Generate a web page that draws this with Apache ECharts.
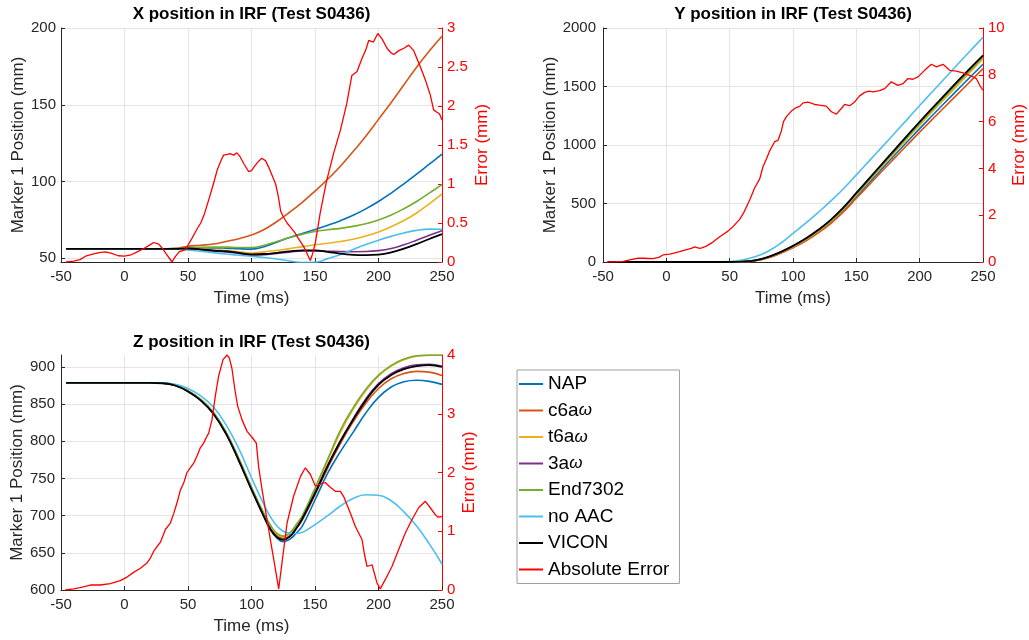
<!DOCTYPE html>
<html>
<head>
<meta charset="utf-8">
<script src="https://cdn.jsdelivr.net/npm/echarts@6/dist/echarts.min.js"></script>
<style>
  html, body { margin: 0; padding: 0; background: #fff; }
  #chart { width: 1029px; height: 640px; }
</style>
</head>
<body>
<div id="chart"></div>
<script>
// Series labels and MATLAB default line colours
const methodNames = ['NAP', 'c6aω', 't6aω', '3aω', 'End7302', 'no AAC', 'VICON'];
const errorName = 'Absolute Error';
const methodColors = ['#0072BD', '#D95319', '#EDB120', '#7E2F8E', '#77AC30', '#4DBEEE', '#000000'];
const errorColor = '#FF0000';

// Sample times (ms) for the X and Y position traces
const timeMs = [-46, -40, -30, -20, -10, 0, 10, 20, 30, 40, 50, 60, 70, 80, 90, 100, 110, 120, 130, 140, 150, 160, 170, 180, 190, 200, 210, 220, 230, 240, 250];
// Z traces are sampled more densely around the trough
const zTimeMs = [-46, -40, -30, -20, -10, 0, 10, 20, 30, 40, 50, 60, 70, 80, 90, 100, 110, 115, 120, 125, 130, 135, 140, 150, 160, 170, 180, 190, 200, 210, 220, 230, 240, 250];

// X position (mm)
const xNAP    = [56.1,56.1,56.1,56.1,56.1,56.1,56.1,56.1,56.1, 56.2,56.5,56.8,56.8,56.6,56.2,56.0,57.5,60.5,63.5,66.2,68.8,71.5,74.5,78.0,82.2,87.0,92.5,98.5,104.8,111.3,117.8];
const xC6a    = [56.1,56.1,56.1,56.1,56.1,56.1,56.1,56.1,56.2, 56.5,57.8,58.5,59.3,61.0,62.8,65.2,68.8,74.0,80.0,86.5,93.8,101.5,110.0,119.5,129.5,140.5,151.5,163.0,174.5,185.0,194.6];
const xT6a    = [56.1,56.1,56.1,56.1,56.1,56.1,56.1,56.1,56.1, 56.1,56.3,56.0,55.5,55.0,54.3,53.5,54.2,55.2,56.3,57.6,58.8,59.8,60.9,62.4,64.5,67.2,70.6,74.6,79.5,85.5,92.0];
const x3a     = [56.1,56.1,56.1,56.1,56.1,56.1,56.1,56.1,56.1, 56.1,56.2,55.6,54.8,54.2,53.2,52.0,52.3,53.2,54.0,54.8,54.8,54.6,54.4,54.3,54.4,55.0,56.4,58.8,61.8,65.0,68.0];
const xEnd    = [56.1,56.1,56.1,56.1,56.1,56.1,56.1,56.1,56.1, 56.3,56.8,57.2,57.3,57.3,57.0,57.0,58.5,61.0,63.5,65.6,67.5,68.6,69.5,70.8,72.5,75.0,78.2,82.3,87.0,92.5,98.0];
const xNoAAC  = [56.1,56.1,56.1,56.1,56.1,56.1,56.1,56.1,56.1, 56.0,55.4,54.6,53.7,52.8,52.0,51.3,50.5,49.6,48.3,47.3,47.4,49.8,52.5,55.8,59.0,61.8,64.3,66.5,68.2,69.0,68.9];
const xVicon  = [56.1,56.1,56.1,56.1,56.1,56.1,56.1,56.1,56.1, 56.1,56.4,55.8,55.0,54.6,53.6,52.6,52.8,53.6,54.5,55.2,55.2,54.2,53.0,52.3,52.1,52.4,53.8,56.3,59.3,62.6,65.8];
const xErrTime = [-46,-40,-35,-30,-25,-20,-15,-10,-5,0, 5,10,15,20,23,27,30,33,37.4,40, 43,48,53,57,60,63,66,70,73,76, 78,81,83,86,88.5,91,94,97.7,100,102, 105,108,111,113.4,116,119,121,123,125,128, 131,134,137,141,144,146.3,148,150.2,154,159, 164.6,170,175,179,183,187,190,192.3,196,199.4, 202.8,206.7,210,212,216,220,223.8,227.7,230,233, 237,240.8,243.4,246,248,250];
const xErr     = [0,0.01,0.03,0.08,0.1,0.12,0.13,0.11,0.08,0.075, 0.09,0.13,0.17,0.22,0.25,0.23,0.17,0.1,0,0.07, 0.13,0.16,0.3,0.42,0.5,0.62,0.78,1.0,1.18,1.3, 1.37,1.38,1.39,1.37,1.4,1.35,1.26,1.16,1.17,1.22, 1.28,1.33,1.3,1.22,1.12,1.0,0.85,0.65,0.58,0.5, 0.44,0.38,0.3,0.2,0.1,0.02,0.1,0.24,0.62,1.03, 1.39,1.69,2.03,2.39,2.44,2.61,2.72,2.84,2.82,2.93, 2.86,2.74,2.68,2.66,2.71,2.74,2.78,2.71,2.62,2.5, 2.33,2.14,1.95,1.92,1.9,1.82];

// Y position (mm)
const yNAP    = [0,0,0,0,0,0,0,0,0,0, 0,2,12,37,77,128,187,258,341,442,560,676,794,910,1025,1140,1252,1363,1473,1582,1690];
const yC6a    = [0,0,0,0,0,0,0,0,0,0, 0,1,10,34,73,122,180,250,331,430,545,658,773,886,998,1110,1219,1327,1435,1544,1653];
const yT6a    = [0,0,0,0,0,0,0,0,0,0, 0,2,12,38,79,131,191,264,349,453,573,692,813,933,1052,1170,1285,1398,1511,1624,1738];
const y3a     = [0,0,0,0,0,0,0,0,0,0, 0,3,14,41,84,136,198,272,359,464,586,707,829,950,1070,1190,1306,1421,1535,1647,1760];
const yEnd    = [0,0,0,0,0,0,0,0,0,0, 0,3,13,40,82,134,195,269,355,460,581,702,824,945,1065,1185,1301,1415,1529,1640,1752];
const yNoAAC  = [0,0,0,0,0,0,0,0,0,0, 4,16,44,90,158,245,333,425,522,628,745,862,980,1098,1217,1337,1455,1572,1690,1806,1920];
const yVicon  = [0,0,0,0,0,0,0,0,0,0, 0,3,14,42,85,138,200,275,362,468,590,712,835,957,1078,1198,1315,1430,1545,1657,1767];
const yErrTime = [-47,-40,-34,-28,-22.4,-18,-14,-10.5,-6,-2.6, 2.6,6,10.5,14.5,19.7,22.4,26.3,28,31.6,36.8, 42.1,48.7,52.6,57.9,61,63.2,65.8,69.7,73.7,76.3, 79,81.6,85.5,88.2,90.8,92.5,94.7,98.7,102.6,105.3, 107.9,111.8,115,117.1,121,126.3,130.3,134.2,138.2,140.8, 144.7,148.7,152.6,156.6,160,163.2,168.4,172.4,177.6,182.9, 186.8,190.8,194.7,198.7,203.9,209.2,213.2,218.4,223.7,228.9, 234.2,239.5,244.7,247.4,250];
const yErr     = [0,0.01,0.03,0.1,0.16,0.16,0.15,0.14,0.2,0.3, 0.34,0.38,0.44,0.51,0.58,0.65,0.58,0.6,0.68,0.85, 1.08,1.32,1.51,1.82,2.1,2.35,2.65,3.16,3.55,4.07, 4.4,4.75,5.14,5.2,5.6,6.0,6.2,6.45,6.6,6.65, 6.8,6.83,6.78,6.73,6.7,6.66,6.42,6.32,6.56,6.74, 6.68,6.84,7.1,7.25,7.3,7.27,7.32,7.41,7.7,7.55, 7.62,7.84,7.81,7.91,8.19,8.45,8.34,8.45,8.19,8.16, 8.08,7.98,7.84,7.55,7.34];

// Z position (mm)
const zNAP    = [878.5,878.5,878.5,878.5,878.5,878.5,878.5,878.5, 878.0,875.0,867.5,856.0,838.5,812.0,776.0,737.0,699.0, 682.0,670.0,665.0,668.0,676.0, 686.0,721.0,757.0,786.0,812.0,838.0,859.0,873.0,880.0,882.0,880.5,876.5];
const zC6a    = [878.5,878.5,878.5,878.5,878.5,878.5,878.5,878.5, 878.0,875.0,867.0,855.5,837.5,811.0,775.5,737.0,700.0, 684.0,673.0,669.5,673.0,682.0, 694.0,728.0,764.0,797.0,826.0,851.0,871.0,884.0,891.0,894.0,893.0,888.5];
const zT6a    = [878.5,878.5,878.5,878.5,878.5,878.5,878.5,878.5, 878.2,875.3,867.8,856.2,838.5,811.5,776.0,737.0,701.0, 686.0,675.0,671.5,675.5,686.0, 698.0,735.0,774.0,812.0,843.0,868.0,888.0,901.0,909.5,914.5,915.7,915.7];
const z3a     = [878.5,878.5,878.5,878.5,878.5,878.5,878.5,878.5, 878.0,875.0,867.0,855.0,837.0,810.0,774.0,735.0,698.0, 682.0,671.5,668.0,672.0,683.0, 695.5,730.5,767.5,800.5,830.0,857.0,877.5,891.0,899.0,902.8,903.6,901.0];
const zEnd    = [878.5,878.5,878.5,878.5,878.5,878.5,878.5,878.5, 878.2,875.5,868.0,856.5,839.0,812.0,777.0,738.0,702.0, 687.0,676.0,672.5,676.5,687.5, 700.0,737.0,776.0,815.0,845.0,870.0,889.0,902.0,910.5,915.0,915.8,915.8];
const zNoAAC  = [878.5,878.5,878.5,878.5,878.5,878.5,878.5,878.5, 878.5,876.5,871.0,861.0,846.0,822.0,790.0,751.0,714.0, 698.0,686.0,679.0,676.5,676.0, 677.5,688.0,700.0,713.0,723.0,728.0,727.5,720.0,705.0,686.0,662.0,635.0];
const zVicon  = [878.5,878.5,878.5,878.5,878.5,878.5,878.5,878.5, 878.0,875.0,867.0,855.0,837.0,810.0,774.0,735.0,698.0, 681.0,671.0,667.5,671.5,682.0, 696.0,730.0,767.0,800.0,829.0,855.0,876.0,889.0,897.0,901.0,902.5,900.0];
const zErrTime = [-46.6,-40,-35,-30.8,-26.9,-19,-11.2,-3.3,2,7.2, 12.5,17.7,20.3,23,25.6,28.2,32.2,36.1,38.7,41.3, 44,46.6,49.2,51.8,54.5,57.1,59.7,62.3,65,66.3, 68.9,71.5,74.1,77.6,80.7,82.5,84.6,87,89.1,92.5, 96.5,100.4,103.8,105.6,108.3,110.9,114.8,118,121.4,124, 128,133.2,138.5,142.4,146.3,150.3,154.2,158.1,162,166, 170,172.6,177.8,181.8,187,189,191,194.9,198.8,201.4, 205.4,210.6,215.9,221.1,226.4,231.6,236.9,240.8,244.8,247, 250];
const zErr     = [0,0.02,0.04,0.06,0.085,0.085,0.11,0.16,0.22,0.3, 0.37,0.46,0.54,0.66,0.74,0.81,1.03,1.14,1.3,1.48, 1.7,1.82,2.0,2.08,2.16,2.28,2.42,2.5,2.62,2.67, 2.9,3.3,3.64,3.92,4.0,3.95,3.77,3.4,3.13,2.9, 2.7,2.6,2.5,2.1,1.71,1.37,0.86,0.46,0.02,0.46, 1.14,1.6,1.93,2.08,1.97,1.77,1.8,1.83,1.75,1.68, 1.68,1.59,1.31,1.08,0.86,0.6,0.4,0.43,0.12,0.02, 0.18,0.4,0.69,0.97,1.2,1.4,1.51,1.4,1.28,1.24, 1.25];

// Axis ticks
const timeTicks = { min: -50, max: 250, step: 50 };
const xPosTicks = [50, 100, 150, 200];
const zPosTicks = [600, 650, 700, 750, 800, 850, 900];

const FONT = 'Arial, "Liberation Sans", Helvetica, sans-serif';
const AXIS_GREY = '#262626';
const GRID_GREY = '#e4e4e4';

const panels = [
  { title: 'X position in IRF (Test S0436)', grid: { left: 61, top: 28, width: 381, height: 234 },
    left: { min: 47.6, max: 200, custom: xPosTicks, nameGap: 34, margin: 5 },
    right: { min: 0, max: 3, interval: 0.5, nameGap: 32 },
    times: timeMs, traces: [xNAP, xC6a, xT6a, x3a, xEnd, xNoAAC, xVicon], errT: xErrTime, err: xErr, titleTop: 6 },
  { title: 'Y position in IRF (Test S0436)', grid: { left: 603, top: 28, width: 380, height: 234 },
    left: { min: 0, max: 2000, interval: 500, nameGap: 44, margin: 7 },
    right: { min: 0, max: 10, interval: 2, nameGap: 28 },
    times: timeMs, traces: [yNAP, yC6a, yT6a, y3a, yEnd, yNoAAC, yVicon], errT: yErrTime, err: yErr, titleTop: 6 },
  { title: 'Z position in IRF (Test S0436)', grid: { left: 61, top: 355, width: 381, height: 235 },
    left: { min: 600, max: 916, custom: zPosTicks, nameGap: 34, margin: 6 },
    right: { min: 0, max: 4, interval: 1, nameGap: 19 },
    times: zTimeMs, traces: [zNAP, zC6a, zT6a, z3a, zEnd, zNoAAC, zVicon], errT: zErrTime, err: zErr, titleTop: 334 }
];

const pairs = (ts, vs) => ts.map((t, i) => [t, vs[i]]);
const plainNumber = v => String(v);

const option = {
  animation: false,
  textStyle: { fontFamily: FONT },
  title: panels.map(p => ({
    text: p.title,
    left: p.grid.left + p.grid.width / 2,
    top: p.titleTop,
    textAlign: 'center',
    padding: 0,
    textStyle: { fontSize: 17, fontWeight: 'bold', color: '#000', fontFamily: FONT }
  })),
  grid: panels.map(p => Object.assign({ containLabel: false }, p.grid)),
  xAxis: panels.map((p, i) => ({
    type: 'value', gridIndex: i,
    min: timeTicks.min, max: timeTicks.max, interval: timeTicks.step,
    name: 'Time (ms)', nameLocation: 'middle', nameGap: 28,
    nameTextStyle: { fontSize: 17, color: AXIS_GREY },
    axisLine: { show: true, onZero: false, lineStyle: { color: AXIS_GREY, width: 1 } },
    axisTick: { show: true, inside: true, length: 4, lineStyle: { color: AXIS_GREY } },
    axisLabel: { fontSize: 15, color: AXIS_GREY, margin: 7, formatter: plainNumber },
    splitLine: { show: true, lineStyle: { color: GRID_GREY, width: 1 } }
  })),
  yAxis: [],
  legend: {
    orient: 'vertical', left: 517, top: 370,
    data: methodNames.concat([errorName]),
    icon: 'rect', itemWidth: 24, itemHeight: 2, itemGap: 6.5,
    padding: [4, 10, 4, 2],
    borderColor: '#a0a0a0', borderWidth: 1, borderRadius: 0, backgroundColor: '#fff',
    selectedMode: false,
    formatter: n => n.replace('ω', '{it|ω}'),
    textStyle: {
      fontSize: 19, color: '#000', lineHeight: 20, fontFamily: FONT,
      rich: { it: { fontStyle: 'italic', fontSize: 17, lineHeight: 20, color: '#000', fontFamily: FONT } }
    }
  },
  series: []
};

panels.forEach((p, i) => {
  const leftAxis = {
    type: 'value', gridIndex: i, position: 'left',
    min: p.left.min, max: p.left.max,
    name: 'Marker 1 Position (mm)', nameLocation: 'middle', nameGap: p.left.nameGap, nameRotate: 90,
    nameTextStyle: { fontSize: 17, color: AXIS_GREY },
    axisLine: { show: true, onZero: false, lineStyle: { color: AXIS_GREY, width: 1 } },
    axisTick: { show: true, inside: true, length: 4, lineStyle: { color: AXIS_GREY } },
    axisLabel: { fontSize: 15, color: AXIS_GREY, margin: p.left.margin, formatter: plainNumber },
    splitLine: { show: true, lineStyle: { color: GRID_GREY, width: 1 } }
  };
  if (p.left.custom) {
    leftAxis.axisTick.customValues = p.left.custom;
    leftAxis.axisLabel.customValues = p.left.custom;
  } else {
    leftAxis.interval = p.left.interval;
  }
  const rightAxis = {
    type: 'value', gridIndex: i, position: 'right',
    min: p.right.min, max: p.right.max, interval: p.right.interval,
    name: 'Error (mm)', nameLocation: 'middle', nameGap: p.right.nameGap, nameRotate: 90,
    nameTextStyle: { fontSize: 17, color: errorColor },
    axisLine: { show: true, onZero: false, lineStyle: { color: errorColor, width: 1 } },
    axisTick: { show: true, inside: true, length: 4, lineStyle: { color: errorColor } },
    axisLabel: { fontSize: 15, color: errorColor, margin: 5, formatter: plainNumber },
    splitLine: { show: false }
  };
  option.yAxis.push(leftAxis, rightAxis);

  p.traces.forEach((vals, k) => {
    option.series.push({
      type: 'line', name: methodNames[k],
      xAxisIndex: i, yAxisIndex: 2 * i,
      data: pairs(p.times, vals),
      symbol: 'none', showSymbol: false,
      smooth: 0.45,
      color: methodColors[k],
      lineStyle: { color: methodColors[k], width: k === 6 ? 1.8 : 1.6 },
      itemStyle: { color: methodColors[k] },
      silent: true, emphasis: { disabled: true }
    });
  });
  option.series.push({
    type: 'line', name: errorName,
    xAxisIndex: i, yAxisIndex: 2 * i + 1,
    data: pairs(p.errT, p.err),
    symbol: 'none', showSymbol: false, smooth: false,
    color: errorColor,
    lineStyle: { color: errorColor, width: 1.3 },
    itemStyle: { color: errorColor },
    silent: true, emphasis: { disabled: true }
  });
});

const chart = echarts.init(document.getElementById('chart'), null, { renderer: 'canvas' });
chart.setOption(option);
</script>
</body>
</html>
